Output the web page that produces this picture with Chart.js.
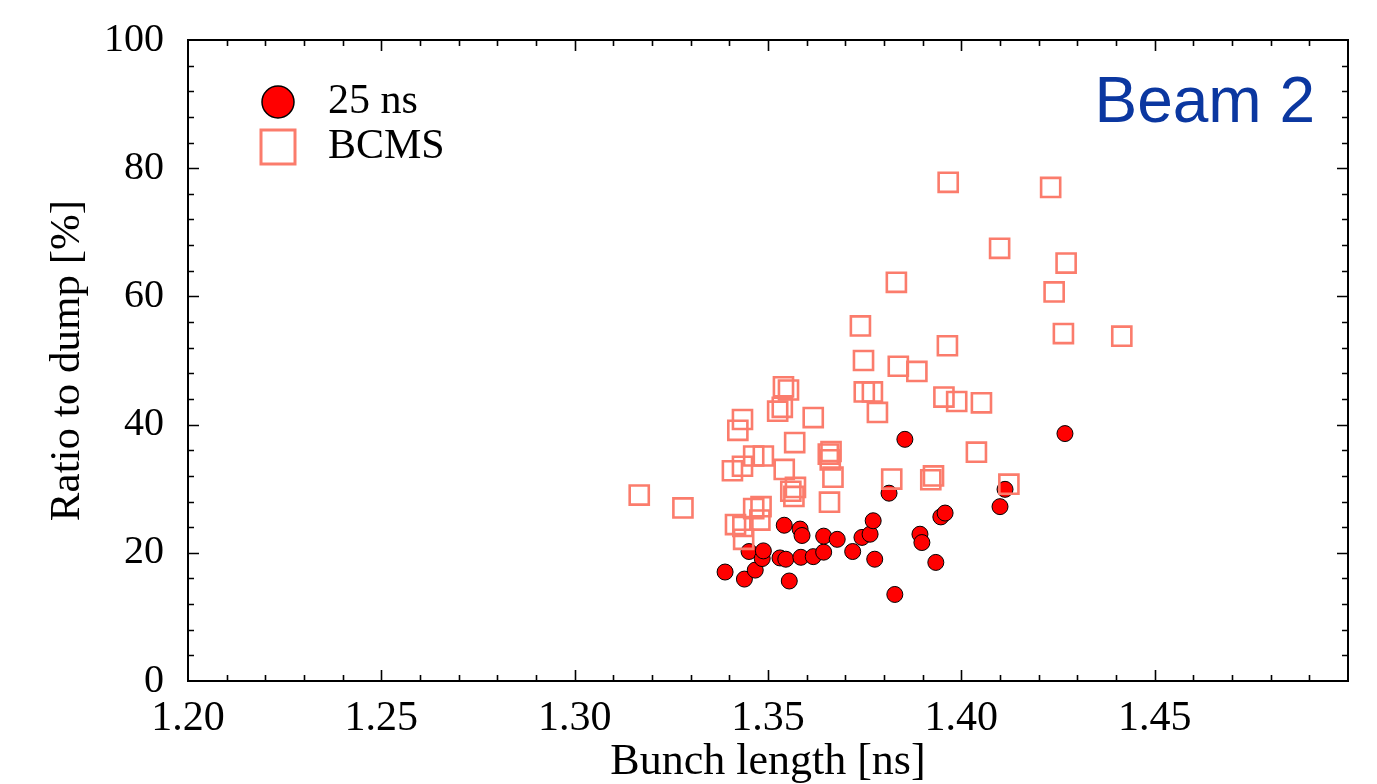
<!DOCTYPE html>
<html>
<head>
<meta charset="UTF-8">
<title>Ratio to dump - Beam 2</title>
<script src="https://cdn.jsdelivr.net/npm/chart.js"></script>
<style>
  html, body { margin: 0; padding: 0; background: #fff; }
</style>
</head>
<body>
<canvas id="chart" width="1377" height="784"></canvas>
<script>
// 25 ns beam
const ns25X = [1.3389, 1.3439, 1.3467, 1.3451, 1.3485, 1.3488, 1.3542, 1.3531, 1.3546, 1.3555,
               1.3583, 1.3588, 1.3585, 1.3617, 1.3644, 1.3644, 1.3679, 1.3719, 1.3743, 1.3764,
               1.3772, 1.3776, 1.3813, 1.3854, 1.3828, 1.3893, 1.3898, 1.3934, 1.3947, 1.3958,
               1.4113, 1.4100, 1.4268];
const ns25Y = [17.0, 15.9, 17.3, 20.2, 19.1, 20.3, 24.3, 19.2, 19.0, 15.6,
               23.7, 22.7, 19.3, 19.4, 20.1, 22.6, 22.1, 20.2, 22.4, 22.9,
               25.0, 19.0, 29.3, 37.7, 13.5, 22.9, 21.6, 18.5, 25.6, 26.2,
               29.9, 27.2, 38.6];

// BCMS beam
const bcmsX = [1.3167, 1.3280, 1.3422, 1.3434, 1.3408, 1.3434, 1.3463, 1.3488, 1.3416, 1.3435,
               1.3437, 1.3463, 1.3482, 1.3479, 1.3540, 1.3553, 1.3537, 1.3525, 1.3569, 1.3542,
               1.3559, 1.3571, 1.3567, 1.3617, 1.3656, 1.3663, 1.3661, 1.3668, 1.3659, 1.3749,
               1.3770, 1.3783, 1.3820, 1.3921, 1.3928, 1.3955, 1.3988, 1.4052, 1.4039, 1.4123,
               1.3966, 1.4231, 1.4099, 1.4271, 1.4240, 1.3832, 1.3739, 1.4264, 1.4415, 1.3964,
               1.3747, 1.3837, 1.3885];
const bcmsY = [29.0, 27.0, 39.1, 40.8, 32.8, 33.5, 35.1, 35.1, 24.4, 24.1,
               22.1, 26.9, 27.2, 25.1, 45.9, 45.4, 42.7, 42.1, 37.2, 33.0,
               29.6, 30.2, 28.8, 41.1, 35.4, 35.8, 34.5, 31.8, 27.9, 45.1,
               45.1, 41.9, 31.5, 31.4, 32.0, 44.3, 43.6, 43.4, 35.7, 30.7,
               77.8, 77.0, 67.5, 65.2, 60.7, 62.2, 55.4, 54.2, 53.8, 52.3,
               50.0, 49.1, 48.3];

const seriesNames = ['25 ns', 'BCMS'];
const panelLabel = 'Beam 2';

const serif = 'Liberation Serif';
const red = '#ff0000';
const salmon = '#fb7c6c';

function toPoints(xs, ys) {
    return xs.map((x, i) => ({ x: x, y: ys[i] }));
}

// frame, inward ticks on all four sides, legend and panel label
const decorations = {
    id: 'decorations',
    afterDraw(chart) {
        const ctx = chart.ctx;
        const a = chart.chartArea;
        const xs = chart.scales.x, ys = chart.scales.y;
        ctx.save();
        ctx.strokeStyle = '#000';
        ctx.lineWidth = 2;
        ctx.strokeRect(a.left, a.top, a.right - a.left, a.bottom - a.top);

        ctx.lineWidth = 1.6;
        ctx.beginPath();
        for (let i = 1; i < 30; i++) {
            const px = Math.round(xs.getPixelForValue(1.2 + i * 0.01)) + 0.5;
            const len = i % 5 === 0 ? 11 : 6;
            ctx.moveTo(px, a.bottom); ctx.lineTo(px, a.bottom - len);
            ctx.moveTo(px, a.top); ctx.lineTo(px, a.top + len);
        }
        for (let i = 1; i < 25; i++) {
            const py = Math.round(ys.getPixelForValue(i * 4)) + 0.5;
            const len = i % 5 === 0 ? 11 : 6;
            ctx.moveTo(a.left, py); ctx.lineTo(a.left + len, py);
            ctx.moveTo(a.right, py); ctx.lineTo(a.right - len, py);
        }
        ctx.stroke();

        // legend
        const lx = a.left + 90;
        const ly1 = a.top + 62, ly2 = a.top + 107;
        ctx.beginPath();
        ctx.arc(lx, ly1, 16, 0, Math.PI * 2);
        ctx.fillStyle = red;
        ctx.fill();
        ctx.lineWidth = 1.5;
        ctx.strokeStyle = '#000';
        ctx.stroke();
        ctx.lineWidth = 3;
        ctx.strokeStyle = salmon;
        ctx.strokeRect(lx - 17, ly2 - 17, 34, 34);

        ctx.fillStyle = '#000';
        ctx.font = '42px "' + serif + '"';
        ctx.textAlign = 'left';
        ctx.textBaseline = 'middle';
        ctx.fillText(seriesNames[0], lx + 50, ly1);
        ctx.fillText(seriesNames[1], lx + 50, ly2);

        ctx.fillStyle = '#0b37a0';
        ctx.font = '64px "Liberation Sans"';
        ctx.textAlign = 'right';
        ctx.textBaseline = 'alphabetic';
        ctx.fillText(panelLabel, a.right - 33, a.top + 82);
        ctx.restore();
    }
};

new Chart(document.getElementById('chart'), {
    type: 'scatter',
    data: {
        datasets: [
            {
                label: seriesNames[0],
                data: toPoints(ns25X, ns25Y),
                pointStyle: 'circle',
                pointRadius: 8,
                backgroundColor: red,
                borderColor: '#000',
                borderWidth: 1,
                order: 2
            },
            {
                label: seriesNames[1],
                data: toPoints(bcmsX, bcmsY),
                pointStyle: 'rect',
                pointRadius: 13.5,
                backgroundColor: 'rgba(0,0,0,0)',
                borderColor: salmon,
                borderWidth: 2.6,
                order: 1
            }
        ]
    },
    options: {
        responsive: false,
        animation: false,
        events: [],
        layout: { padding: { top: 33, right: 29, left: 0, bottom: 0 } },
        plugins: {
            legend: { display: false },
            tooltip: { enabled: false }
        },
        scales: {
            x: {
                type: 'linear',
                min: 1.2,
                max: 1.5,
                grid: { display: false },
                border: { display: false },
                ticks: {
                    stepSize: 0.05,
                    padding: 5,
                    color: '#000',
                    font: { family: serif, size: 42 },
                    callback: v => v > 1.49 ? '' : v.toFixed(2)
                },
                title: {
                    display: true,
                    text: 'Bunch length [ns]',
                    color: '#000',
                    font: { family: serif, size: 44, lineHeight: 1.0 },
                    padding: { top: 0, bottom: 0 }
                },
                afterFit: s => { s.height = 103; }
            },
            y: {
                min: 0,
                max: 100,
                grid: { display: false },
                border: { display: false },
                ticks: {
                    stepSize: 20,
                    padding: 16,
                    color: '#000',
                    font: { family: serif, size: 40 }
                },
                title: {
                    display: true,
                    text: 'Ratio to dump [%]',
                    color: '#000',
                    font: { family: serif, size: 43, lineHeight: 1.2 },
                    padding: { top: 42, bottom: 0 }
                },
                afterFit: s => { s.width = 188; }
            }
        }
    },
    plugins: [decorations]
});
</script>
</body>
</html>
